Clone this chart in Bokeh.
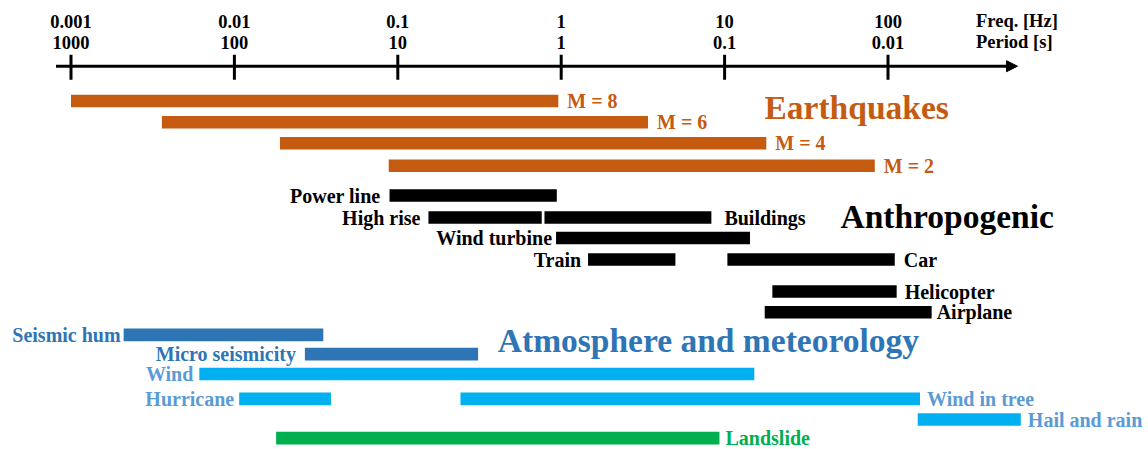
from bokeh.plotting import figure
from bokeh.models import ColumnDataSource, Range1d, Arrow, NormalHead
from bokeh.core.properties import value
from bokeh.embed import file_html
from bokeh.resources import INLINE

# ---------------- data ----------------
freq_ticks = [0.001, 0.01, 0.1, 1, 10, 100]
freq_labels = ["0.001", "0.01", "0.1", "1", "10", "100"]
period_labels = ["1000", "100", "10", "1", "0.1", "0.01"]
axis_names = ["Freq. [Hz]", "Period [s]"]

eq_names = ["M = 8", "M = 6", "M = 4", "M = 2"]
eq_fmin = [0.001, 0.0036, 0.019, 0.088]
eq_fmax = [0.96, 3.4, 18.0, 83.0]

anthro_names = ["Power line", "High rise", "Buildings", "Wind turbine",
                "Train", "Car", "Helicopter", "Airplane"]
anthro_fmin = [0.089, 0.154, 0.79, 0.93, 1.46, 10.4, 19.6, 17.6]
anthro_fmax = [0.94, 0.76, 8.3, 14.3, 5.0, 110.0, 113.0, 185.0]

atmo_names = ["Seismic hum", "Micro seismicity", "Wind", "Hurricane",
              "Wind in tree", "Hail and rain", "Landslide"]
atmo_fmin = [0.0021, 0.027, 0.0061, 0.0107, 0.242, 152.0, 0.018]
atmo_fmax = [0.035, 0.31, 15.2, 0.039, 157.0, 650.0, 9.3]

group_titles = ["Earthquakes", "Anthropogenic", "Atmosphere and meteorology"]

# ---------------- layout / style ----------------
PX0, PX_PER_DEC = 560.7, 163.4          # horizontal layout: 1 decade = 163.4 px
W, H = 1148, 449


def hz(px):
    return 10 ** ((px - PX0) / PX_PER_DEC)


FONT = value("Liberation Serif")
ORANGE = "#C55A11"
DBLUE = "#2E75B6"
LBLUE_BAR = "#00B0F0"
LBLUE_TXT = "#5B9BD5"
GREEN = "#00B050"

eq_rows = [100.5, 121.8, 142.8, 165.3]
eq_sides = ["R"] * 4
eq_gaps = [9, 9, 9, 9]

anthro_rows = [195, 217, 217, 237.5, 259, 259, 291, 311.7]
anthro_sides = ["L", "L", "R", "L", "L", "R", "R", "R"]
anthro_gaps = [9, 8, 13, 4, 7, 9, 8, 5]

atmo_rows = [334.3, 353.7, 373.5, 398.3, 398.3, 419, 437.7]
atmo_sides = ["L", "L", "L", "L", "R", "R", "R"]
atmo_gaps = [3, 9, 6, 5, 7, 7, 6]
atmo_bar_colors = [DBLUE, DBLUE, LBLUE_BAR, LBLUE_BAR, LBLUE_BAR, LBLUE_BAR, GREEN]
atmo_txt_colors = [DBLUE, DBLUE, LBLUE_TXT, LBLUE_TXT, LBLUE_TXT, LBLUE_TXT, GREEN]

p = figure(width=W, height=H, x_axis_type="log",
           x_range=Range1d(hz(0), hz(W)), y_range=Range1d(H, 0),
           x_axis_location=None, y_axis_location=None,
           output_backend="svg", toolbar_location=None, min_border=0)
p.grid.visible = False
p.outline_line_color = None
p.background_fill_color = "white"

# ---------------- frequency axis ----------------
AXIS_Y = 65.7
p.add_layout(Arrow(end=NormalHead(size=11, fill_color="black", line_color="black", line_width=1),
                   x_start=hz(55.5), y_start=AXIS_Y, x_end=hz(1017), y_end=AXIS_Y,
                   line_width=3, line_color="black"))
p.segment(x0=freq_ticks, x1=freq_ticks, y0=[54.3] * len(freq_ticks), y1=[79.3] * len(freq_ticks),
          line_width=3, line_color="black")
TICK_FS = "18.5px"
p.text(x=freq_ticks, y=[20.6] * len(freq_ticks), text=freq_labels, text_align="center",
       text_baseline="alphabetic", text_font=FONT, text_font_style="bold",
       text_font_size=TICK_FS, text_color="black")
p.text(x=freq_ticks, y=[41.6] * len(freq_ticks), text=period_labels, text_align="center",
       text_baseline="alphabetic", text_font=FONT, text_font_style="bold",
       text_font_size=TICK_FS, text_color="black")
p.text(x=[hz(975.5)] * 2, y=[20.6, 41.6], text=axis_names, text_align="left",
       text_baseline="alphabetic", text_font=FONT, text_font_style="bold",
       text_font_size=TICK_FS, text_color="black")


# ---------------- bars + labels ----------------
def add_group(names, fmin, fmax, rows, sides, gaps, bar_colors, txt_colors, height):
    src = ColumnDataSource(dict(y=rows, left=fmin, right=fmax, color=bar_colors))
    p.hbar(y="y", left="left", right="right", height=height, fill_color="color",
           line_color=None, source=src)
    for side in ("L", "R"):
        idx = [i for i, s in enumerate(sides) if s == side]
        if not idx:
            continue
        xs = [fmin[i] if side == "L" else fmax[i] for i in idx]
        offs = [-gaps[i] if side == "L" else gaps[i] for i in idx]
        tsrc = ColumnDataSource(dict(x=xs, y=[rows[i] for i in idx], text=[names[i] for i in idx],
                                     off=offs, color=[txt_colors[i] for i in idx]))
        p.text(x="x", y="y", text="text", x_offset="off", y_offset=0, source=tsrc,
               text_align="right" if side == "L" else "left", text_baseline="alphabetic",
               text_font=FONT, text_font_style="bold", text_font_size="20px",
               text_color="color")


add_group(eq_names, eq_fmin, eq_fmax, eq_rows, eq_sides, eq_gaps,
          [ORANGE] * 4, [ORANGE] * 4, 12.5)
add_group(anthro_names, anthro_fmin, anthro_fmax, anthro_rows, anthro_sides, anthro_gaps,
          ["black"] * 8, ["black"] * 8, 12.5)
add_group(atmo_names, atmo_fmin, atmo_fmax, atmo_rows, atmo_sides, atmo_gaps,
          atmo_bar_colors, atmo_txt_colors, 12.7)

# ---------------- group titles ----------------
p.text(x=[hz(764), hz(840), hz(497.3)], y=[107.3, 215.7, 340.3], text=group_titles,
       text_color=[ORANGE, "black", DBLUE], text_align="left", text_baseline="alphabetic",
       text_font=FONT, text_font_style="bold", text_font_size="33.5px")

open("out.html", "w").write(file_html(p, INLINE))
